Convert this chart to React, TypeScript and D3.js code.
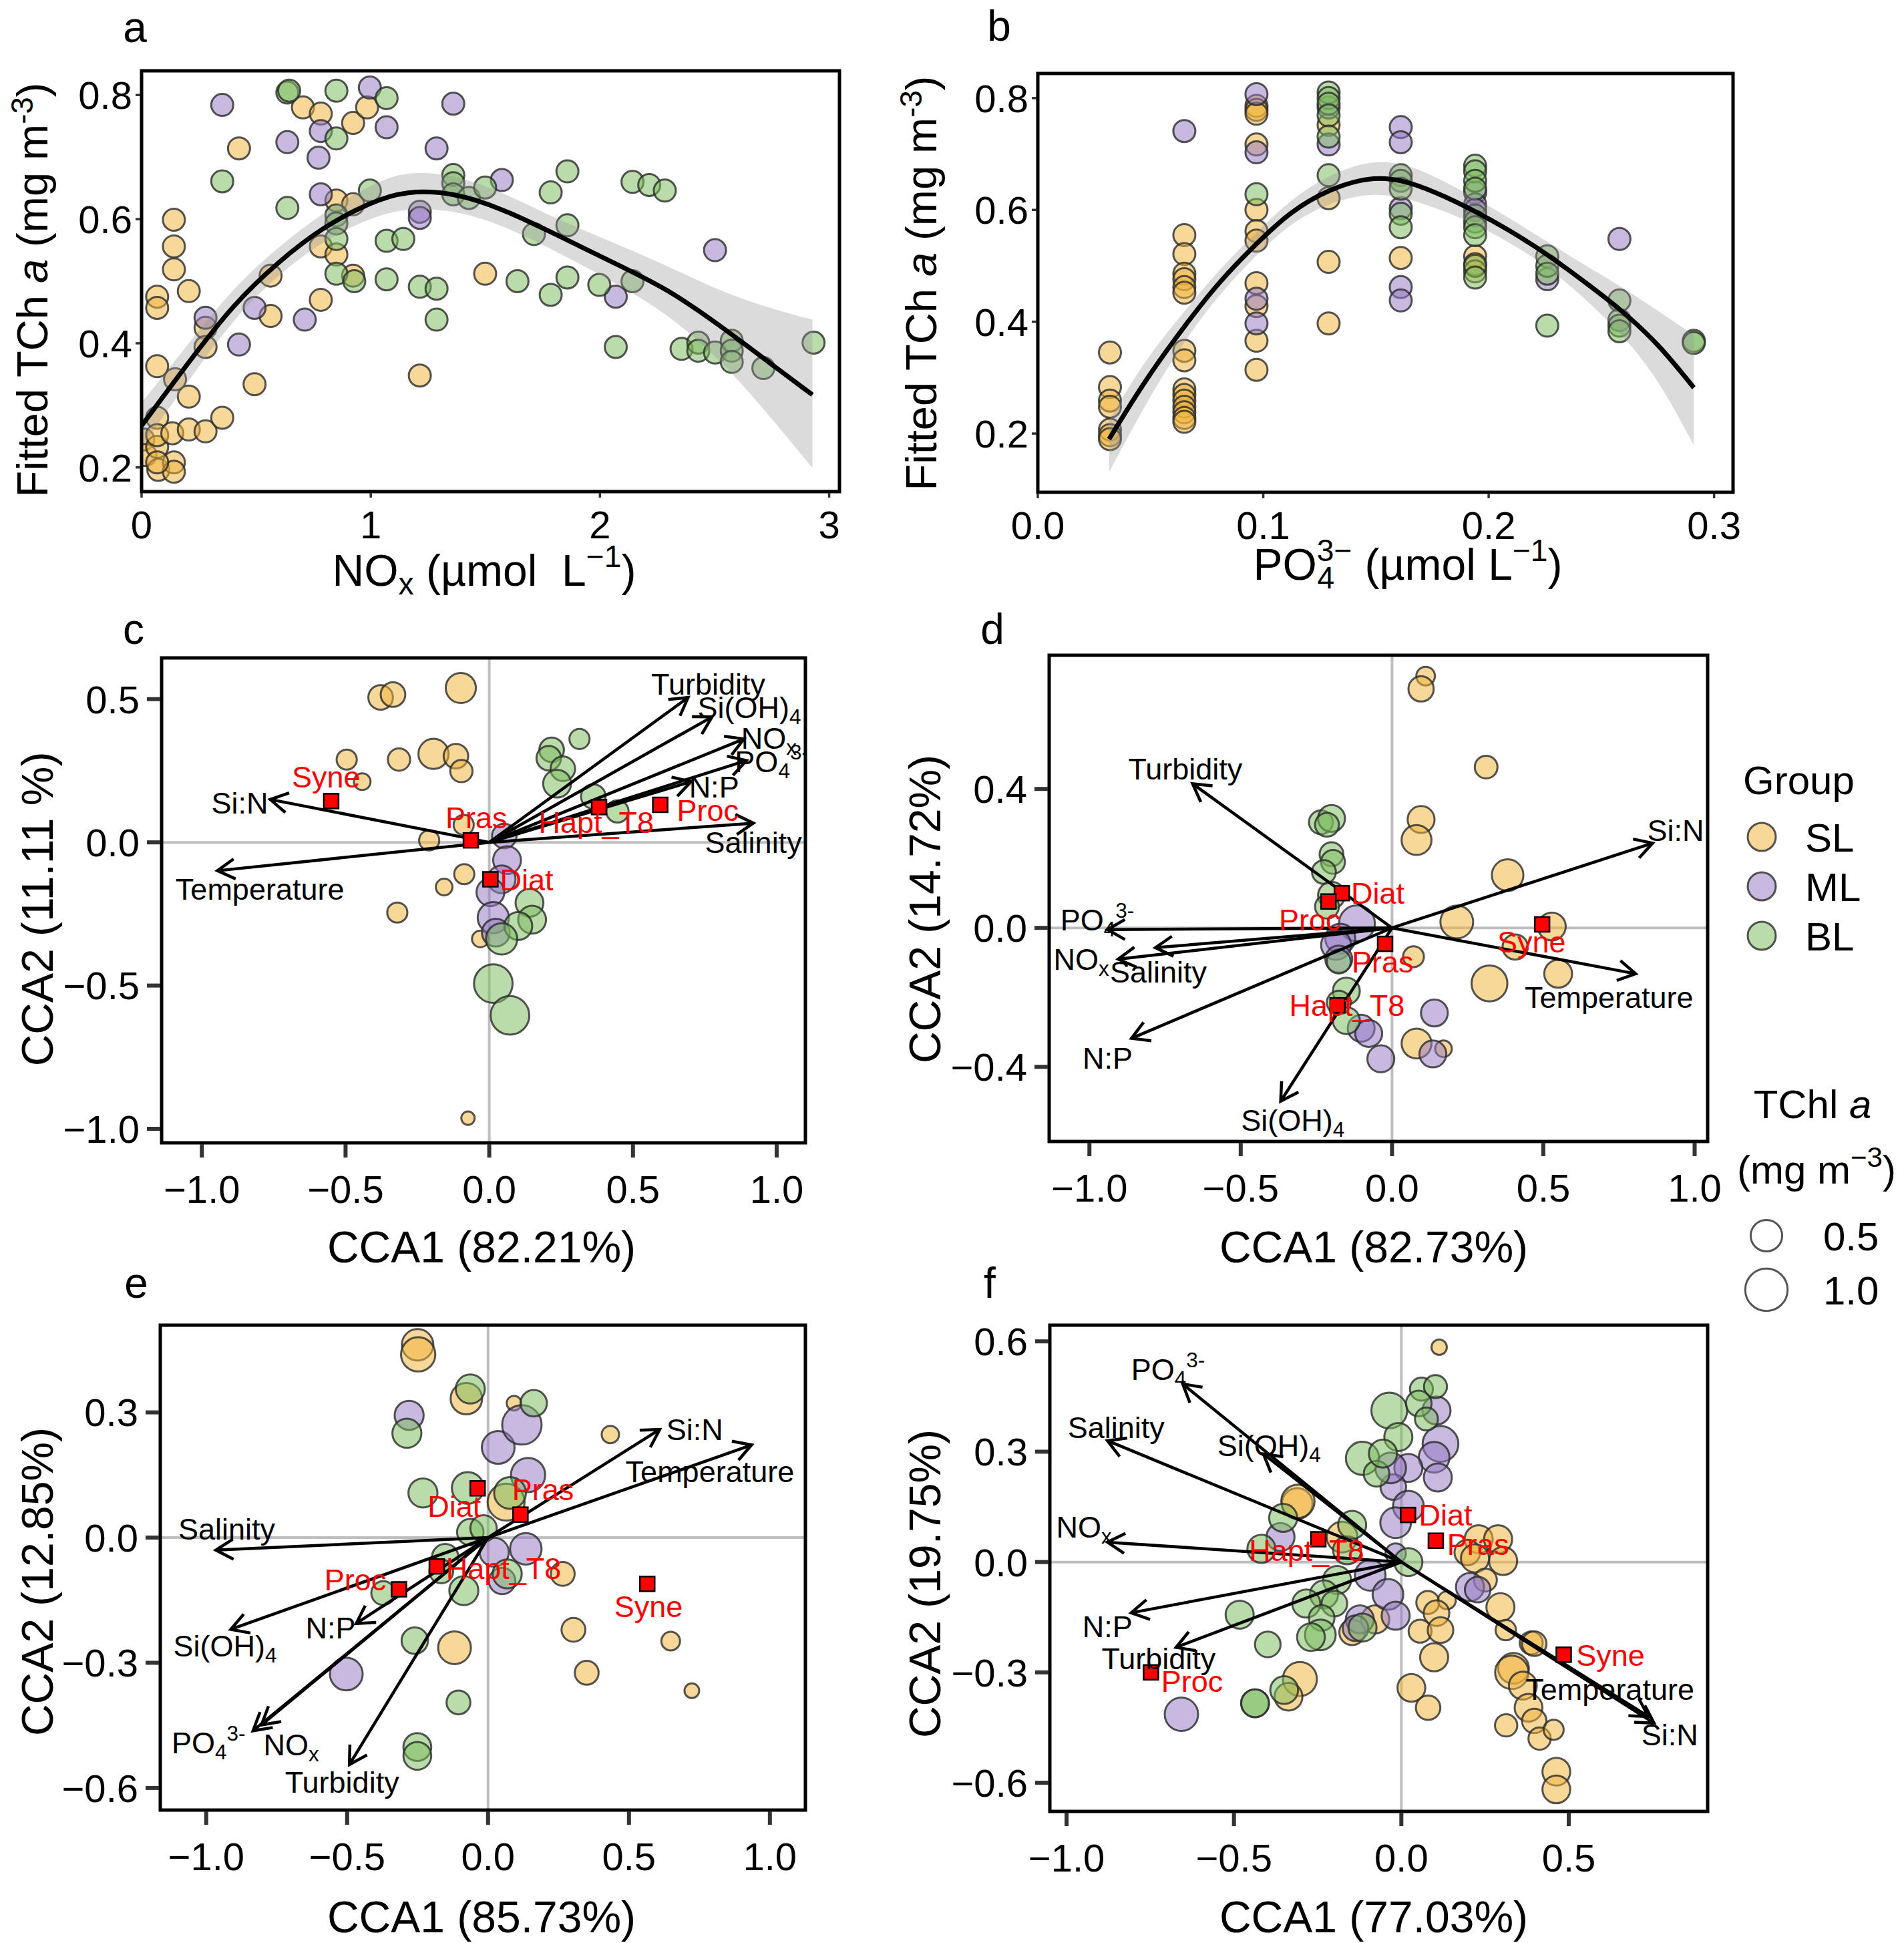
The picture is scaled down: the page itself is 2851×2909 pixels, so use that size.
import React from "react";
import * as d3 from "d3";

// ── Types ─────────────────────────────────────────────────────────────────────

type Grp = "SL" | "ML" | "BL";
type XY = [number, number];
type Site = [number, number, number]; // CCA1, CCA2, TChl a
type Vec = [string, number, number, number, number]; // name, x, y, label x, label y
type Part = [string, string?, number?];

// ── Panel a: fitted TChl a vs NOx ────────────────────────────────────────────

const aSL: XY[] = [
  [0.007, 0.245], [0.017, 0.22], [0.073, 0.196], [0.068, 0.233], [0.141, 0.208], [0.141, 0.193],
  [0.068, 0.28], [0.068, 0.252], [0.134, 0.255], [0.206, 0.261], [0.279, 0.258], [0.352, 0.28],
  [0.206, 0.314], [0.146, 0.342], [0.068, 0.363], [0.068, 0.475], [0.068, 0.457], [0.141, 0.599],
  [0.141, 0.556], [0.141, 0.519], [0.206, 0.484], [0.279, 0.425], [0.279, 0.394], [0.425, 0.714],
  [0.493, 0.334], [0.563, 0.509], [0.563, 0.444], [0.782, 0.47], [0.782, 0.556], [0.85, 0.543],
  [0.85, 0.63], [0.923, 0.755], [0.923, 0.624], [0.923, 0.509], [0.984, 0.78], [0.704, 0.78],
  [0.782, 0.77], [1.214, 0.348], [1.499, 0.512], [0.068, 0.208],
];
const aML: XY[] = [
  [0.352, 0.784], [0.636, 0.724], [0.782, 0.742], [0.772, 0.699], [0.782, 0.64], [0.996, 0.812],
  [1.069, 0.748], [1.287, 0.714], [1.36, 0.786], [1.214, 0.612], [1.214, 0.602], [0.279, 0.441],
  [0.425, 0.398], [0.493, 0.457], [0.712, 0.438], [1.572, 0.663], [2.502, 0.55], [2.069, 0.475],
];
const aBL: XY[] = [
  [0.352, 0.661], [0.636, 0.804], [0.636, 0.618], [0.85, 0.807], [0.85, 0.73], [0.85, 0.606],
  [0.85, 0.593], [0.85, 0.568], [0.85, 0.512], [0.928, 0.5], [0.996, 0.646], [1.069, 0.795],
  [1.069, 0.565], [1.142, 0.568], [1.069, 0.503], [1.214, 0.491], [1.287, 0.488], [1.287, 0.438],
  [1.36, 0.671], [1.36, 0.658], [1.36, 0.64], [1.428, 0.634], [1.499, 0.651], [1.712, 0.576],
  [1.785, 0.643], [1.858, 0.677], [1.785, 0.478], [1.858, 0.59], [1.858, 0.506], [1.64, 0.5],
  [1.997, 0.494], [2.069, 0.394], [2.142, 0.5], [2.142, 0.66], [2.215, 0.655], [2.283, 0.646],
  [2.356, 0.391], [2.429, 0.401], [2.429, 0.388], [2.502, 0.385], [2.575, 0.404], [2.575, 0.388],
  [2.575, 0.37], [2.713, 0.36], [2.932, 0.401], [0.644, 0.807],
];
const aFitX = [0, 0.206, 0.401, 0.595, 0.789, 0.996, 1.154, 1.36, 1.567, 1.81, 2.052, 2.295, 2.538, 2.781, 2.927];
const aFitY = [0.267, 0.37, 0.463, 0.531, 0.587, 0.627, 0.646, 0.643, 0.618, 0.575, 0.531, 0.488, 0.425, 0.357, 0.317];
const aFitLo = [0.233, 0.34, 0.44, 0.51, 0.565, 0.602, 0.618, 0.615, 0.592, 0.548, 0.5, 0.448, 0.37, 0.265, 0.199];
const aFitHi = [0.304, 0.4, 0.49, 0.555, 0.61, 0.655, 0.678, 0.672, 0.645, 0.6, 0.563, 0.525, 0.481, 0.452, 0.438];

// ── Panel b: fitted TChl a vs PO4 ────────────────────────────────────────────

const bSL: XY[] = [
  [0.032, 0.345], [0.032, 0.283], [0.032, 0.259], [0.032, 0.248], [0.032, 0.207], [0.032, 0.197], [0.032, 0.19],
  [0.065, 0.555], [0.065, 0.521], [0.065, 0.486], [0.065, 0.476], [0.065, 0.462], [0.065, 0.452], [0.065, 0.348],
  [0.065, 0.331], [0.065, 0.279], [0.065, 0.269], [0.065, 0.259], [0.065, 0.248], [0.065, 0.238], [0.065, 0.228],
  [0.065, 0.221], [0.097, 0.786], [0.097, 0.779], [0.097, 0.772], [0.097, 0.717], [0.097, 0.6], [0.097, 0.562],
  [0.097, 0.545], [0.097, 0.469], [0.097, 0.428], [0.097, 0.366], [0.097, 0.314], [0.129, 0.752], [0.129, 0.621],
  [0.129, 0.507], [0.129, 0.397], [0.161, 0.514], [0.194, 0.517], [0.194, 0.503], [0.194, 0.49],
];
const bML: XY[] = [
  [0.065, 0.741], [0.097, 0.807], [0.097, 0.703], [0.097, 0.441], [0.097, 0.397], [0.129, 0.783], [0.129, 0.717],
  [0.161, 0.748], [0.161, 0.721], [0.161, 0.603], [0.161, 0.462], [0.161, 0.438], [0.194, 0.631], [0.194, 0.61],
  [0.194, 0.6], [0.226, 0.476], [0.258, 0.548],
];
const bBL: XY[] = [
  [0.097, 0.628], [0.129, 0.81], [0.129, 0.8], [0.129, 0.79], [0.129, 0.769], [0.129, 0.731], [0.129, 0.662],
  [0.161, 0.662], [0.161, 0.652], [0.161, 0.638], [0.161, 0.593], [0.161, 0.569], [0.194, 0.679], [0.194, 0.669],
  [0.194, 0.652], [0.194, 0.638], [0.194, 0.59], [0.194, 0.579], [0.194, 0.569], [0.194, 0.555], [0.194, 0.5],
  [0.194, 0.479], [0.226, 0.517], [0.226, 0.5], [0.226, 0.486], [0.226, 0.393], [0.258, 0.438], [0.258, 0.403],
  [0.258, 0.393], [0.258, 0.383], [0.291, 0.366], [0.291, 0.362],
];
const bFitX = [0.0316, 0.048, 0.065, 0.08, 0.097, 0.112, 0.129, 0.147, 0.161, 0.1765, 0.194, 0.2086, 0.226, 0.243, 0.258, 0.275, 0.291];
const bFitY = [0.19, 0.298, 0.392, 0.47, 0.54, 0.597, 0.637, 0.659, 0.655, 0.632, 0.598, 0.565, 0.521, 0.47, 0.424, 0.362, 0.282];
const bFitLo = [0.131, 0.255, 0.366, 0.447, 0.52, 0.576, 0.613, 0.63, 0.624, 0.604, 0.575, 0.543, 0.5, 0.44, 0.383, 0.3, 0.179];
const bFitHi = [0.224, 0.335, 0.418, 0.492, 0.56, 0.618, 0.663, 0.688, 0.685, 0.66, 0.621, 0.587, 0.543, 0.5, 0.465, 0.42, 0.376];

// ── Panel c: CCA ──────────────────────────────────────────────────────────────

const cSL: Site[] = [
  [-0.378, 0.506, 0.27], [-0.335, 0.516, 0.27], [-0.099, 0.539, 0.45], [-0.496, 0.289, 0.16], [-0.314, 0.289, 0.21],
  [-0.194, 0.309, 0.45], [-0.116, 0.301, 0.27], [-0.097, 0.249, 0.21], [-0.442, 0.212, 0.094], [-0.209, 0.007, 0.16],
  [-0.089, 0.061, 0.16], [-0.087, -0.111, 0.16], [-0.157, -0.156, 0.094], [-0.32, -0.245, 0.16], [-0.031, -0.337, 0.094],
  [-0.074, -0.963, 0.047],
];
const cML: Site[] = [
  [0.052, 0.022, 0.27], [0.062, -0.062, 0.37], [0.043, -0.129, 0.37], [0.004, -0.174, 0.37], [0.014, -0.263, 0.49],
  [0.023, -0.315, 0.37],
];
const cBL: Site[] = [
  [0.314, 0.361, 0.16], [0.217, 0.323, 0.27], [0.207, 0.294, 0.27], [0.256, 0.257, 0.27], [0.236, 0.205, 0.37],
  [0.362, 0.16, 0.27], [0.446, 0.108, 0.21], [0.14, -0.211, 0.37], [0.149, -0.27, 0.37], [0.101, -0.292, 0.37],
  [0.043, -0.337, 0.49], [0.014, -0.493, 0.81], [0.072, -0.604, 0.81],
];
const cArrows: Vec[] = [
  ["Turbidity", 0.692, 0.506, 0.762, 0.553], ["Si(OH)4", 0.775, 0.438, 0.905, 0.472], ["NOx", 0.886, 0.361, 0.973, 0.364],
  ["PO43-", 0.895, 0.286, 0.983, 0.283], ["N:P", 0.702, 0.212, 0.782, 0.194], ["Salinity", 0.919, 0.067, 0.919, 0.0],
  ["Si:N", -0.762, 0.15, -0.868, 0.138], ["Temperature", -0.946, -0.099, -0.798, -0.162],
];
const cSpecies: Vec[] = [
  ["Syne", -0.55, 0.144, -0.568, 0.23], ["Pras", -0.064, 0.007, -0.045, 0.086], ["Hapt_T8", 0.382, 0.123, 0.372, 0.071],
  ["Proc", 0.595, 0.131, 0.76, 0.113], ["Diat", 0.004, -0.129, 0.13, -0.129],
];

// ── Panel d: CCA ──────────────────────────────────────────────────────────────

const dSL: Site[] = [
  [0.111, 0.725, 0.13], [0.096, 0.688, 0.29], [0.311, 0.463, 0.22], [0.096, 0.312, 0.34], [0.081, 0.253, 0.44],
  [0.382, 0.152, 0.5], [0.214, 0.017, 0.55], [0.528, 0.004, 0.37], [0.407, -0.055, 0.29], [0.549, -0.132, 0.37],
  [0.071, -0.083, 0.175], [0.322, -0.16, 0.68], [0.081, -0.333, 0.44], [0.17, -0.348, 0.094],
];
const dML: Site[] = [
  [-0.116, 0.013, 0.68], [-0.171, -0.031, 0.44], [-0.185, -0.049, 0.44], [-0.176, -0.09, 0.34], [-0.102, -0.289, 0.34],
  [-0.077, -0.304, 0.34], [-0.037, -0.377, 0.34], [0.14, -0.245, 0.34], [0.135, -0.363, 0.34],
];
const dBL: Site[] = [
  [-0.235, 0.304, 0.25], [-0.2, 0.315, 0.34], [-0.215, 0.297, 0.25], [-0.2, 0.212, 0.25], [-0.195, 0.19, 0.25],
  [-0.225, 0.161, 0.25], [-0.2, 0.094, 0.34], [-0.215, 0.061, 0.25], [-0.176, -0.097, 0.25], [-0.151, -0.182, 0.34],
  [-0.176, -0.215, 0.25], [-0.151, -0.267, 0.34],
];
const dArrows: Vec[] = [
  ["Turbidity", -0.659, 0.415, -0.683, 0.459], ["PO43-", -0.94, -0.005, -0.974, 0.024], ["NOx", -0.905, -0.09, -1.027, -0.09],
  ["Salinity", -0.782, -0.057, -0.772, -0.127], ["N:P", -0.861, -0.318, -0.94, -0.374], ["Si(OH)4", -0.368, -0.499, -0.328, -0.554],
  ["Si:N", 0.861, 0.244, 0.937, 0.281], ["Temperature", 0.805, -0.132, 0.717, -0.2],
];
const dSpecies: Vec[] = [
  ["Diat", -0.166, 0.1, -0.047, 0.1], ["Proc", -0.21, 0.076, -0.272, 0.024], ["Pras", -0.023, -0.046, -0.031, -0.097],
  ["Hapt_T8", -0.18, -0.223, -0.149, -0.223], ["Syne", 0.496, 0.01, 0.461, -0.039],
];

// ── Panel e: CCA ──────────────────────────────────────────────────────────────

const eSL: Site[] = [
  [-0.25, 0.462, 0.5], [-0.248, 0.439, 0.61], [-0.077, 0.333, 0.5], [0.092, 0.322, 0.064], [0.064, 0.085, 0.73],
  [0.434, 0.247, 0.106], [0.265, -0.087, 0.25], [0.303, -0.221, 0.25], [0.35, -0.324, 0.25], [-0.119, -0.264, 0.55],
  [0.648, -0.248, 0.13], [0.723, -0.367, 0.064],
];
const eML: Site[] = [
  [-0.28, 0.293, 0.41], [0.036, 0.216, 0.55], [0.12, 0.27, 0.85], [0.142, 0.15, 0.61], [0.134, -0.027, 0.5],
  [0.022, -0.035, 0.41], [0.05, -0.104, 0.325], [-0.503, -0.327, 0.55],
];
const eBL: Site[] = [
  [-0.288, 0.25, 0.41], [-0.063, 0.356, 0.41], [0.162, 0.322, 0.325], [-0.231, 0.107, 0.41], [-0.072, 0.119, 0.51],
  [0.078, 0.107, 0.51], [-0.063, 0.013, 0.325], [-0.016, 0.022, 0.325], [-0.152, -0.047, 0.325], [-0.166, -0.081, 0.25],
  [-0.086, -0.127, 0.41], [-0.372, -0.133, 0.25], [-0.26, -0.247, 0.325], [0.068, -0.087, 0.41], [-0.105, -0.395, 0.25],
  [-0.251, -0.502, 0.37], [-0.251, -0.523, 0.37],
];
const eArrows: Vec[] = [
  ["Si:N", 0.609, 0.259, 0.733, 0.259], ["Temperature", 0.935, 0.222, 0.787, 0.158], ["Salinity", -0.966, -0.03, -0.927, 0.021],
  ["Si(OH)4", -0.913, -0.22, -0.933, -0.259], ["N:P", -0.468, -0.206, -0.559, -0.216], ["PO43-", -0.834, -0.463, -0.992, -0.491],
  ["NOx", -0.804, -0.449, -0.698, -0.496], ["Turbidity", -0.492, -0.544, -0.518, -0.586],
];
const eSpecies: Vec[] = [
  ["Diat", -0.037, 0.118, -0.12, 0.076], ["Pras", 0.115, 0.055, 0.195, 0.116], ["Hapt_T8", -0.182, -0.069, 0.055, -0.073],
  ["Proc", -0.316, -0.124, -0.471, -0.101], ["Syne", 0.565, -0.111, 0.569, -0.164],
];

// ── Panel f: CCA ──────────────────────────────────────────────────────────────

const fSL: Site[] = [
  [0.113, 0.584, 0.073], [-0.311, 0.159, 0.47], [-0.309, 0.165, 0.57], [-0.177, 0.068, 0.47], [0.231, 0.062, 0.377],
  [0.289, 0.062, 0.377], [0.197, 0.026, 0.3], [0.304, 0.003, 0.377], [0.22, 0.01, 0.377], [0.251, -0.049, 0.227],
  [0.079, -0.11, 0.227], [0.136, -0.104, 0.115], [0.105, -0.139, 0.3], [0.056, -0.188, 0.227], [0.117, -0.185, 0.3],
  [0.098, -0.259, 0.377], [0.296, -0.123, 0.377], [0.312, -0.185, 0.166], [0.388, -0.22, 0.227], [0.335, -0.289, 0.47],
  [-0.147, -0.191, 0.3], [-0.078, -0.156, 0.377], [-0.303, -0.318, 0.6], [-0.337, -0.366, 0.368], [0.03, -0.342, 0.368],
  [0.08, -0.396, 0.267], [0.33, -0.3, 0.575], [0.363, -0.336, 0.37], [0.38, -0.396, 0.368], [0.397, -0.432, 0.267],
  [0.413, -0.48, 0.21], [0.455, -0.456, 0.158], [0.463, -0.57, 0.368], [0.463, -0.618, 0.368], [0.397, -0.222, 0.267],
  [0.313, -0.444, 0.21],
];
const fML: Site[] = [
  [0.105, 0.412, 0.377], [0.117, 0.321, 0.677], [0.098, 0.285, 0.47], [0.109, 0.23, 0.377], [0.021, 0.256, 0.377],
  [-0.024, 0.204, 0.3], [-0.032, 0.256, 0.47], [0.021, 0.152, 0.47], [-0.017, 0.107, 0.47], [-0.361, 0.068, 0.377],
  [-0.017, 0.023, 0.166], [-0.093, -0.036, 0.47], [-0.04, -0.088, 0.47], [-0.017, -0.146, 0.377], [-0.124, -0.156, 0.377],
  [0.205, -0.068, 0.377], [0.228, -0.075, 0.3], [-0.657, -0.414, 0.575], [-0.137, -0.18, 0.3],
];
const fBL: Site[] = [
  [0.06, 0.47, 0.227], [0.102, 0.477, 0.227], [-0.036, 0.412, 0.677], [0.052, 0.431, 0.3], [0.075, 0.389, 0.227],
  [-0.116, 0.282, 0.57], [-0.074, 0.24, 0.3], [-0.009, 0.34, 0.377], [-0.055, 0.295, 0.377], [-0.162, 0.032, 0.377],
  [-0.147, 0.101, 0.377], [-0.353, 0.12, 0.377], [-0.418, 0.036, 0.377], [-0.192, -0.049, 0.377], [-0.231, -0.088, 0.377],
  [-0.284, -0.113, 0.377], [-0.2, -0.113, 0.3], [-0.238, -0.152, 0.3], [-0.116, -0.178, 0.377], [-0.242, -0.198, 0.47],
  [-0.399, -0.224, 0.3], [-0.483, -0.143, 0.377], [0.021, 0.0, 0.377], [-0.437, -0.384, 0.368], [-0.437, -0.384, 0.368],
  [-0.35, -0.348, 0.368], [-0.27, -0.204, 0.368],
];
const fArrows: Vec[] = [
  ["PO43-", -0.653, 0.484, -0.697, 0.525], ["Salinity", -0.878, 0.33, -0.852, 0.366], ["Si(OH)4", -0.412, 0.294, -0.395, 0.318],
  ["NOx", -0.878, 0.054, -0.948, 0.096], ["N:P", -0.807, -0.138, -0.878, -0.174], ["Turbidity", -0.673, -0.232, -0.725, -0.261],
  ["Temperature", 0.738, -0.42, 0.623, -0.345], ["Si:N", 0.755, -0.438, 0.802, -0.468],
];
const fSpecies: Vec[] = [
  ["Diat", 0.02, 0.128, 0.132, 0.128], ["Pras", 0.103, 0.058, 0.229, 0.049], ["Hapt_T8", -0.248, 0.062, -0.283, 0.032],
  ["Syne", 0.485, -0.252, 0.625, -0.252], ["Proc", -0.748, -0.3, -0.625, -0.324],
];

// ── Ticks / legend values ─────────────────────────────────────────────────────

const aXTicks = [0, 1, 2, 3];
const bXTicks = [0, 0.1, 0.2, 0.3];
const abYTicks = [0.2, 0.4, 0.6, 0.8];
const ccaXTicks = [-1, -0.5, 0, 0.5, 1];
const fXTicks = [-1, -0.5, 0, 0.5];
const cYTicks = [-1, -0.5, 0, 0.5];
const dYTicks = [-0.4, 0, 0.4];
const eYTicks = [-0.6, -0.3, 0, 0.3];
const fYTicks = [-0.6, -0.3, 0, 0.3, 0.6];
const GROUPS: Grp[] = ["SL", "ML", "BL"];
const SIZE_BREAKS = [0.5, 1.0];

// ── Style config ──────────────────────────────────────────────────────────────

const FONT = "'Liberation Sans', Arial, Helvetica, sans-serif";
const FILL: Record<Grp, string> = { SL: "#EFB43C", ML: "#9478C3", BL: "#7ABC5D" };
const PT_ALPHA = 0.52;
const RED = "#FF0000";
const sizeScale = d3.scaleSqrt().domain([0, 1]).range([4, 31.7]);

const AX_FIT = { len: 9, w: 3.5, fs: 58, xBase: 70, yEnd: 5 };
const AX_CCA = { len: 22, w: 6, fs: 58, xBase: 90, yEnd: 11 };
const fmt1 = d3.format(".1f");
const fmtInt = d3.format("d");

// ── Helpers ───────────────────────────────────────────────────────────────────

function Rich({ x, y, parts, fs, anchor = "middle", fill = "#000", rot = false, supUp = 0.42 }: any) {
  let off = 0;
  const kids = parts.map((p: Part, i: number) => {
    const [t, k, dx] = p;
    const small = k === "sub" || k === "sup";
    const target = k === "sub" ? 0.2 * fs : k === "sup" ? -supUp * fs : 0;
    const dy = target - off;
    off = target;
    return (
      <tspan
        key={i}
        dy={dy || undefined}
        dx={dx}
        fontSize={small ? fs * 0.7 : undefined}
        fontStyle={k === "it" ? "italic" : undefined}
      >
        {t}
      </tspan>
    );
  });
  return (
    <text
      x={x}
      y={y}
      fontSize={fs}
      textAnchor={anchor}
      fill={fill}
      style={{ whiteSpace: "pre" }}
      transform={rot ? `rotate(-90 ${x} ${y})` : undefined}
    >
      {kids}
    </text>
  );
}

const richName = (n: string): Part[] =>
  n === "NOx"
    ? [["NO"], ["x", "sub"]]
    : n === "Si(OH)4"
    ? [["Si(OH)"], ["4", "sub"]]
    : n === "PO43-"
    ? [["PO"], ["4", "sub"], ["3-", "sup"]]
    : [[n]];

function Frame({ box, sx, sy, xTicks, yTicks, fmtX, fmtY, ax }: any) {
  return (
    <g>
      <rect x={box.l} y={box.t} width={box.r - box.l} height={box.b - box.t} fill="none" stroke="#000" strokeWidth={5} />
      {xTicks.map((v: number) => (
        <g key={`x${v}`}>
          <line x1={sx(v)} x2={sx(v)} y1={box.b + 2} y2={box.b + ax.len} stroke="#333" strokeWidth={ax.w} />
          <text x={sx(v)} y={box.b + ax.xBase} fontSize={ax.fs} textAnchor="middle">
            {fmtX(v)}
          </text>
        </g>
      ))}
      {yTicks.map((v: number) => (
        <g key={`y${v}`}>
          <line x1={box.l - 2} x2={box.l - ax.len} y1={sy(v)} y2={sy(v)} stroke="#333" strokeWidth={ax.w} />
          <text x={box.l - ax.len - ax.yEnd} y={sy(v) + ax.fs * 0.36} fontSize={ax.fs} textAnchor="end">
            {fmtY(v)}
          </text>
        </g>
      ))}
    </g>
  );
}

// ── Fitted panels (a, b) ──────────────────────────────────────────────────────

function FitPanel({ id, box, xDom, yDom, xTicks, fmtX, series, fit }: any) {
  const sx = d3.scaleLinear().domain(xDom).range([box.l, box.r]);
  const sy = d3.scaleLinear().domain(yDom).range([box.b, box.t]);
  const idx = d3.range(fit.x.length);
  const band = d3
    .area<number>()
    .x((i) => sx(fit.x[i]))
    .y0((i) => sy(fit.lo[i]))
    .y1((i) => sy(fit.hi[i]))
    .curve(d3.curveBasis);
  const line = d3
    .line<number>()
    .x((i) => sx(fit.x[i]))
    .y((i) => sy(fit.y[i]))
    .curve(d3.curveBasis);
  return (
    <g>
      <clipPath id={id}>
        <rect x={box.l} y={box.t} width={box.r - box.l} height={box.b - box.t} />
      </clipPath>
      <g clipPath={`url(#${id})`}>
        {GROUPS.map((g) =>
          series[g].map((p: XY, i: number) => (
            <circle
              key={`${g}${i}`}
              cx={sx(p[0])}
              cy={sy(p[1])}
              r={16.5}
              fill={FILL[g]}
              fillOpacity={PT_ALPHA}
              stroke="#2a2a2a"
              strokeOpacity={0.8}
              strokeWidth={3}
            />
          ))
        )}
        <path d={band(idx) || ""} fill="#999" fillOpacity={0.35} />
        <path d={line(idx) || ""} fill="none" stroke="#000" strokeWidth={7} />
      </g>
      <Frame box={box} sx={sx} sy={sy} xTicks={xTicks} yTicks={abYTicks} fmtX={fmtX} fmtY={fmt1} ax={AX_FIT} />
    </g>
  );
}

// ── CCA panels (c–f) ──────────────────────────────────────────────────────────

function CcaPanel({ id, box, xDom, yDom, xTicks, yTicks, sites, arrows, species }: any) {
  const sx = d3.scaleLinear().domain(xDom).range([box.l, box.r]);
  const sy = d3.scaleLinear().domain(yDom).range([box.b, box.t]);
  const ox = sx(0);
  const oy = sy(0);
  const head = 30;
  const ang = Math.PI / 6;
  const lfs = 45;
  return (
    <g>
      <clipPath id={id}>
        <rect x={box.l} y={box.t} width={box.r - box.l} height={box.b - box.t} />
      </clipPath>
      <g clipPath={`url(#${id})`}>
        <line x1={box.l} x2={box.r} y1={oy} y2={oy} stroke="#BEBEBE" strokeWidth={4} />
        <line x1={ox} x2={ox} y1={box.t} y2={box.b} stroke="#BEBEBE" strokeWidth={4} />
        {GROUPS.map((g) =>
          sites[g].map((s: Site, i: number) => (
            <circle
              key={`${g}${i}`}
              cx={sx(s[0])}
              cy={sy(s[1])}
              r={sizeScale(s[2])}
              fill={FILL[g]}
              fillOpacity={PT_ALPHA}
              stroke="#2a2a2a"
              strokeOpacity={0.8}
              strokeWidth={3}
            />
          ))
        )}
        {arrows.map(([n, x, y]: Vec) => {
          const tx = sx(x);
          const ty = sy(y);
          const a = Math.atan2(ty - oy, tx - ox);
          const h1 = [tx - head * Math.cos(a - ang), ty - head * Math.sin(a - ang)];
          const h2 = [tx - head * Math.cos(a + ang), ty - head * Math.sin(a + ang)];
          return (
            <path
              key={n}
              d={`M${ox},${oy}L${tx},${ty}M${h1[0]},${h1[1]}L${tx},${ty}L${h2[0]},${h2[1]}`}
              fill="none"
              stroke="#000"
              strokeWidth={4.5}
            />
          );
        })}
        {species.map(([n, x, y]: Vec) => (
          <rect key={n} x={sx(x) - 11} y={sy(y) - 11} width={22} height={22} fill={RED} stroke="#000" strokeWidth={2.5} />
        ))}
        {arrows.map(([n, , , lx, ly]: Vec) => (
          <Rich key={`l${n}`} x={sx(lx)} y={sy(ly) + lfs * 0.36} parts={richName(n)} fs={lfs} />
        ))}
        {species.map(([n, , , lx, ly]: Vec) => (
          <text key={`s${n}`} x={sx(lx)} y={sy(ly) + lfs * 0.36} fontSize={lfs} textAnchor="middle" fill={RED}>
            {n}
          </text>
        ))}
      </g>
      <Frame box={box} sx={sx} sy={sy} xTicks={xTicks} yTicks={yTicks} fmtX={fmt1} fmtY={fmt1} ax={AX_CCA} />
    </g>
  );
}

// ── Legend ───────────────────────────────────────────────────────────────────

function Legend() {
  const gy = d3.scalePoint<Grp>().domain(GROUPS).range([1253, 1401]);
  const sy = d3.scalePoint<number>().domain(SIZE_BREAKS).range([1850, 1931]);
  const fs = 60;
  return (
    <g>
      <text x={2610} y={1189} fontSize={fs}>Group</text>
      {GROUPS.map((g) => (
        <g key={g}>
          <circle cx={2638} cy={gy(g)} r={21} fill={FILL[g]} fillOpacity={PT_ALPHA} stroke="#2a2a2a" strokeOpacity={0.8} strokeWidth={3} />
          <text x={2703} y={(gy(g) || 0) + fs * 0.36} fontSize={fs}>{g}</text>
        </g>
      ))}
      <Rich x={2714} y={1674} fs={fs} parts={[["TChl "], ["a", "it"]]} />
      <Rich x={2720} y={1772} fs={fs} parts={[["(mg m"], ["−3", "sup"], [")"]]} />
      {SIZE_BREAKS.map((v) => (
        <g key={v}>
          <circle cx={2645} cy={sy(v)} r={sizeScale(v)} fill="none" stroke="#555" strokeWidth={3} />
          <text x={2730} y={(sy(v) || 0) + fs * 0.36} fontSize={fs}>{fmt1(v)}</text>
        </g>
      ))}
    </g>
  );
}

// ── App ──────────────────────────────────────────────────────────────────────

const boxA = { l: 212, r: 1257, t: 106, b: 736 };
const boxB = { l: 1554, r: 2595, t: 110, b: 737 };
const boxC = { l: 242, r: 1206, t: 985, b: 1711 };
const boxD = { l: 1571, r: 2557, t: 981, b: 1709 };
const boxE = { l: 240, r: 1206, t: 1984, b: 2710 };
const boxF = { l: 1572, r: 2557, t: 1984, b: 2712 };

const yTitleFit: Part[] = [["Fitted TCh "], ["a", "it"], [" (mg m"], ["-3", "sup"], [")"]];

export default function App() {
  const tfs = 66;
  return (
    <div style={{ position: "absolute", left: 0, top: 0 }}>
      <svg width={2851} height={2909} fontFamily={FONT} style={{ display: "block", background: "#fff" }}>
        {/* panel letters */}
        <g fontSize={64} textAnchor="middle">
          <text x={202} y={63}>a</text>
          <text x={1496} y={61}>b</text>
          <text x={200} y={964}>c</text>
          <text x={1486} y={964}>d</text>
          <text x={204} y={1943}>e</text>
          <text x={1482} y={1943}>f</text>
        </g>

        <FitPanel
          id="clipA"
          box={boxA}
          xDom={[0, 3.045]}
          yDom={[0.161, 0.839]}
          xTicks={aXTicks}
          fmtX={fmtInt}
          series={{ SL: aSL, ML: aML, BL: aBL }}
          fit={{ x: aFitX, y: aFitY, lo: aFitLo, hi: aFitHi }}
        />
        <FitPanel
          id="clipB"
          box={boxB}
          xDom={[0, 0.3084]}
          yDom={[0.095, 0.844]}
          xTicks={bXTicks}
          fmtX={fmt1}
          series={{ SL: bSL, ML: bML, BL: bBL }}
          fit={{ x: bFitX, y: bFitY, lo: bFitLo, hi: bFitHi }}
        />
        <CcaPanel id="clipC" box={boxC} xDom={[-1.14, 1.1]} yDom={[-1.049, 0.644]} xTicks={ccaXTicks} yTicks={cYTicks}
          sites={{ SL: cSL, ML: cML, BL: cBL }} arrows={cArrows} species={cSpecies} />
        <CcaPanel id="clipD" box={boxD} xDom={[-1.133, 1.043]} yDom={[-0.615, 0.785]} xTicks={ccaXTicks} yTicks={dYTicks}
          sites={{ SL: dSL, ML: dML, BL: dBL }} arrows={dArrows} species={dSpecies} />
        <CcaPanel id="clipE" box={boxE} xDom={[-1.163, 1.126]} yDom={[-0.653, 0.509]} xTicks={ccaXTicks} yTicks={eYTicks}
          sites={{ SL: eSL, ML: eML, BL: eBL }} arrows={eArrows} species={eSpecies} />
        <CcaPanel id="clipF" box={boxF} xDom={[-1.05, 0.915]} yDom={[-0.678, 0.644]} xTicks={fXTicks} yTicks={fYTicks}
          sites={{ SL: fSL, ML: fML, BL: fBL }} arrows={fArrows} species={fSpecies} />

        {/* axis titles */}
        <Rich x={71} y={434} fs={65} rot supUp={0.34} parts={yTitleFit} />
        <Rich x={1402} y={424} fs={65} rot supUp={0.34} parts={yTitleFit} />
        <Rich x={725} y={877} fs={tfs} parts={[["NO"], ["x", "sub"], [" (µmol  L"], ["−1", "sup"], [")"]]} />
        <Rich
          x={2108}
          y={868}
          fs={tfs}
          parts={[["PO"], ["3−", "sup"], ["4", "sub", -52], [" (µmol L", undefined, 27], ["−1", "sup"], [")"]]}
        />
        <text x={721} y={1890} fontSize={tfs} textAnchor="middle">CCA1 (82.21%)</text>
        <text x={2057} y={1890} fontSize={tfs} textAnchor="middle">CCA1 (82.73%)</text>
        <text x={721} y={2893} fontSize={tfs} textAnchor="middle">CCA1 (85.73%)</text>
        <text x={2057} y={2893} fontSize={tfs} textAnchor="middle">CCA1 (77.03%)</text>
        <text x={79} y={1361} fontSize={tfs} textAnchor="middle" transform="rotate(-90 79 1361)">CCA2 (11.11 %)</text>
        <text x={1408} y={1361} fontSize={tfs} textAnchor="middle" transform="rotate(-90 1408 1361)">CCA2 (14.72%)</text>
        <text x={79} y={2368} fontSize={tfs} textAnchor="middle" transform="rotate(-90 79 2368)">CCA2 (12.85%)</text>
        <text x={1408} y={2371} fontSize={tfs} textAnchor="middle" transform="rotate(-90 1408 2371)">CCA2 (19.75%)</text>

        <Legend />
      </svg>
    </div>
  );
}
